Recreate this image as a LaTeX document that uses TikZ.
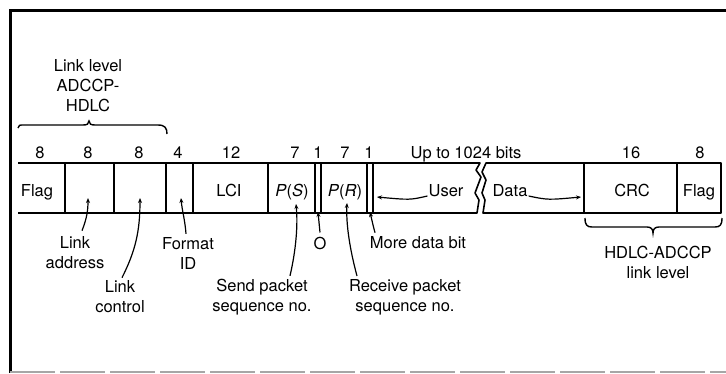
\documentclass[tikz,border=0pt]{standalone}
\usepackage{fontspec}
\setmainfont{TeX Gyre Heros}
\usetikzlibrary{arrows.meta}
\begin{document}
\begin{tikzpicture}[x=1pt,y=-1pt,
  font=\fontsize{16.5}{20}\selectfont,
  box/.style={line width=1.6pt, line join=round},
  lbl/.style={align=center, inner sep=0pt},
  cell/.style={inner sep=0pt, anchor=base},
  num/.style={inner sep=0pt, anchor=base},
  ptr/.style={line width=1.2pt, -{Stealth[length=5pt,width=4pt]}},
  brc/.style={line width=1.4pt},
  frame/.style={line width=3pt}]
\useasboundingbox (0,0) rectangle (726,373);
% frame
\draw[frame] (726,10) -- (10,10) -- (10,373);
\draw[gray!70, line width=2pt, dash pattern=on 45pt off 5pt] (10,372) -- (726,372);
% left brace and label
\node[lbl] (llvl) at (88,86) {Link level\\ADCCP-\\HDLC};
\draw[brc] (18,128) .. controls (18,125) and (20,125) .. (24,125) -- (83,125)
  .. controls (87,125) and (89,124) .. (89,121)
  .. controls (89,124) and (91,125) .. (95,125) -- (158,125)
  .. controls (165,125) and (167,128) .. (167,134);
% bit counts
\node[num] (n1) at (40,158) {8};
\node[num] (n2) at (88,158) {8};
\node[num] (n3) at (139,158) {8};
\node[num] (n4) at (178,158) {4};
\node[num] (n5) at (231,158) {12};
\node[num] (n6) at (295,158) {7};
\node[num] (n7) at (318,158) {1};
\node[num] (n8) at (345,158) {7};
\node[num] (n9) at (369,158) {1};
\node[num] (n10) at (466,158) {Up to 1024 bits};
\node[num] (n11) at (631,158) {16};
\node[num] (n12) at (700,158) {8};
% field row
\draw[box] (18,163) -- (480,163) -- (476,170) -- (481,177) -- (475,193) -- (479,200) -- (477,213) -- (18,213);
\draw[box] (486,163) -- (721,163) -- (721,213) -- (483,213) -- (485,200) -- (482,193) -- (486,180) -- (482,172) -- cycle;
\foreach \x in {65,114,166,193,268,315,321,367,373,584,677}
  \draw[box] (\x,163) -- (\x,213);
% field texts
\node[cell] (flag1) at (37,196) {Flag};
\node[cell] (lci) at (229,196) {LCI};
\node[cell] (ps) at (292,196) {\textit{P}(\textit{S})};
\node[cell] (pr) at (345,196) {\textit{P}(\textit{R})};
\node[cell] (user) at (446,196) {User};
\node[cell] (data) at (510,196) {Data};
\node[cell] (crc) at (632,196) {CRC};
\node[cell] (flag2) at (699,196) {Flag};
\draw[ptr] ([xshift=-1pt]user.base west) .. controls (410,200) .. (377,197);
\draw[ptr] ([xshift=1pt]data.base east) .. controls (548,200) .. (581,197);
% right brace and label
\draw[brc] (585,218) .. controls (585,225) and (587,227) .. (592,227) -- (647,227)
  .. controls (651,227) and (653,229) .. (653,233)
  .. controls (653,229) and (655,227) .. (659,227) -- (715,227)
  .. controls (720,227) and (722,225) .. (722,218);
\node[lbl] (hdlc) at (658,262) {HDLC-ADCCP\\link level};
% tips inside fields
\coordinate (tAddr) at (88,198);
\coordinate (tCtrl) at (140,198);
\coordinate (tFmt) at (181,198);
\coordinate (tPS) at (296,204);
\coordinate (tO) at (318,212);
\coordinate (tPR) at (347,203);
\coordinate (tMore) at (370,212);
% lower labels
\node[lbl] (addr) at (75,253) {Link\\address};
\node[lbl] (ctrl) at (120,297) {Link\\control};
\node[lbl] (fmt) at (188,253) {Format\\ID};
\node[lbl] (send) at (262,297) {Send packet\\sequence no.};
\node[lbl] (onode) at (320,243) {O};
\node[lbl] (more) at (418,243) {More data bit};
\node[lbl] (recv) at (405,297) {Receive packet\\sequence no.};
% pointers
\draw[ptr] ([xshift=7pt,yshift=6pt]addr.north) .. controls (87,218) and (88,210) .. (tAddr);
\draw[ptr] ([xshift=2pt,yshift=3pt]ctrl.north) .. controls (136,250) and (140,230) .. (tCtrl);
\draw[ptr] ([xshift=-2pt,yshift=3pt]fmt.north) .. controls (185,220) and (182,210) .. (tFmt);
\draw[ptr] ([xshift=28pt,yshift=3pt]send.north) .. controls (296,250) and (298,225) .. (tPS);
\draw[ptr] ([yshift=4pt]onode.north) -- (tO);
\draw[ptr] ([xshift=-48pt,yshift=3pt]recv.north) .. controls (350,250) and (346,225) .. (tPR);
\draw[ptr] ([xshift=-43pt,yshift=4pt]more.north) .. controls (373,225) .. (tMore);
\end{tikzpicture}
\end{document}
